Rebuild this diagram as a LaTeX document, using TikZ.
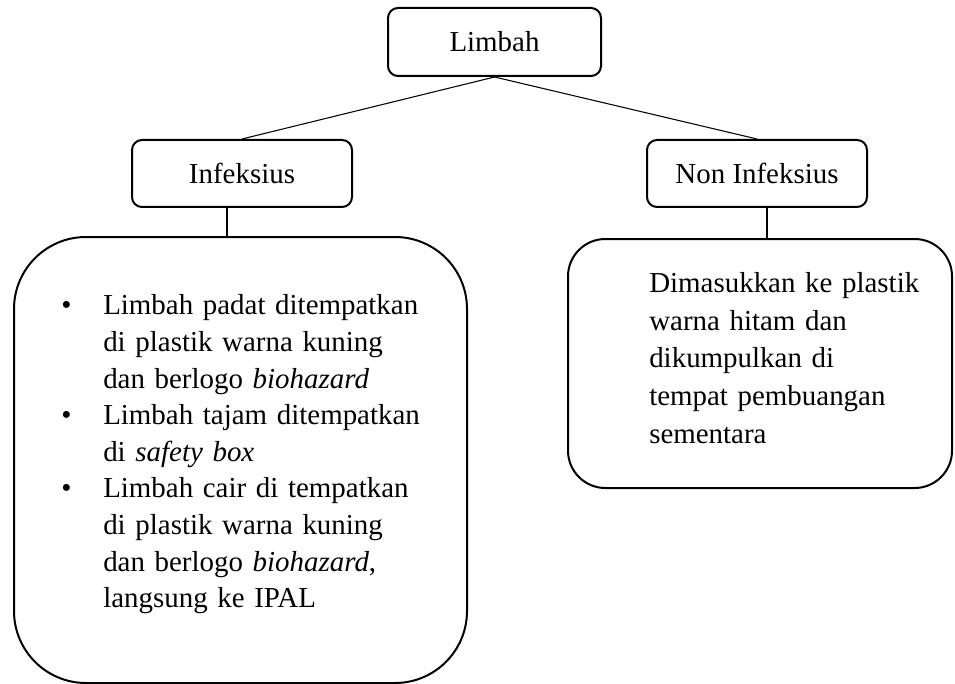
\documentclass[tikz,border=0pt]{standalone}
\usepackage{fontspec}
\setmainfont{Liberation Serif}
\usetikzlibrary{calc}
\usetikzlibrary{positioning}

\newcommand{\itm}{\makebox[31.5pt][l]{\textbullet}}
\newcommand{\ind}{\hspace*{31.5pt}}

\tikzset{
  headbox/.style={draw=black, line width=1.5pt, rounded corners=7.5pt, inner sep=0pt,
    minimum width=165pt, minimum height=50.25pt, font=\fontsize{21.7}{26}\selectfont},
  bigbox/.style={draw=black, line width=1.5pt, inner sep=0pt},
  boxtext/.style={anchor=north west, inner sep=0pt, align=left, text width=330pt},
  link/.style={draw=black, line width=0.8pt}
}

\begin{document}
\begin{tikzpicture}[x=0.75pt, y=-0.75pt]
\useasboundingbox (0,0) rectangle (955,684);

% top level
\node (limbah) [headbox, minimum width=159.75pt, minimum height=51pt] at (494.5,42) {Limbah};

% the two groups
\node (infbox) [headbox] at (242,173.5) {Infeksius};
\node (nonbox) [headbox] at (757,173.5) {Non Infeksius};

\node (leftbox) [bigbox, rounded corners=54pt, minimum width=339.75pt, minimum height=334.5pt] at (240.5,460) {};
\node (rightbox) [bigbox, rounded corners=28pt, minimum width=288pt, minimum height=186.75pt] at (760,363.5) {};

\node (lefttext) [boxtext, font=\fontsize{21.7}{27.45}\selectfont] at ($(leftbox.north west)+(48,58.5)$) {%
\itm Limbah padat ditempatkan\\
\ind di plastik warna kuning\\
\ind dan berlogo \textit{biohazard}\\
\itm Limbah tajam ditempatkan\\
\ind di \textit{safety box}\\
\itm Limbah cair di tempatkan\\
\ind di plastik warna kuning\\
\ind dan berlogo \textit{biohazard},\\
\ind langsung ke IPAL};

\node (righttext) [boxtext, font=\fontsize{21.7}{28.3}\selectfont] at ($(rightbox.north west)+(82,34)$) {%
Dimasukkan ke plastik\\
warna hitam dan\\
dikumpulkan di\\
tempat pembuangan\\
sementara};

% connectors
\draw [link] (limbah.south) -- (infbox.north);
\draw [link] (limbah.south) -- (nonbox.north);
\coordinate (infdrop) at ($(infbox.south)+(-15,0)$);
\coordinate (nondrop) at ($(nonbox.south)+(10,0)$);
\draw [link] (infdrop) -- (infdrop |- leftbox.north);
\draw [link] (nondrop) -- (nondrop |- rightbox.north);

\end{tikzpicture}
\end{document}
